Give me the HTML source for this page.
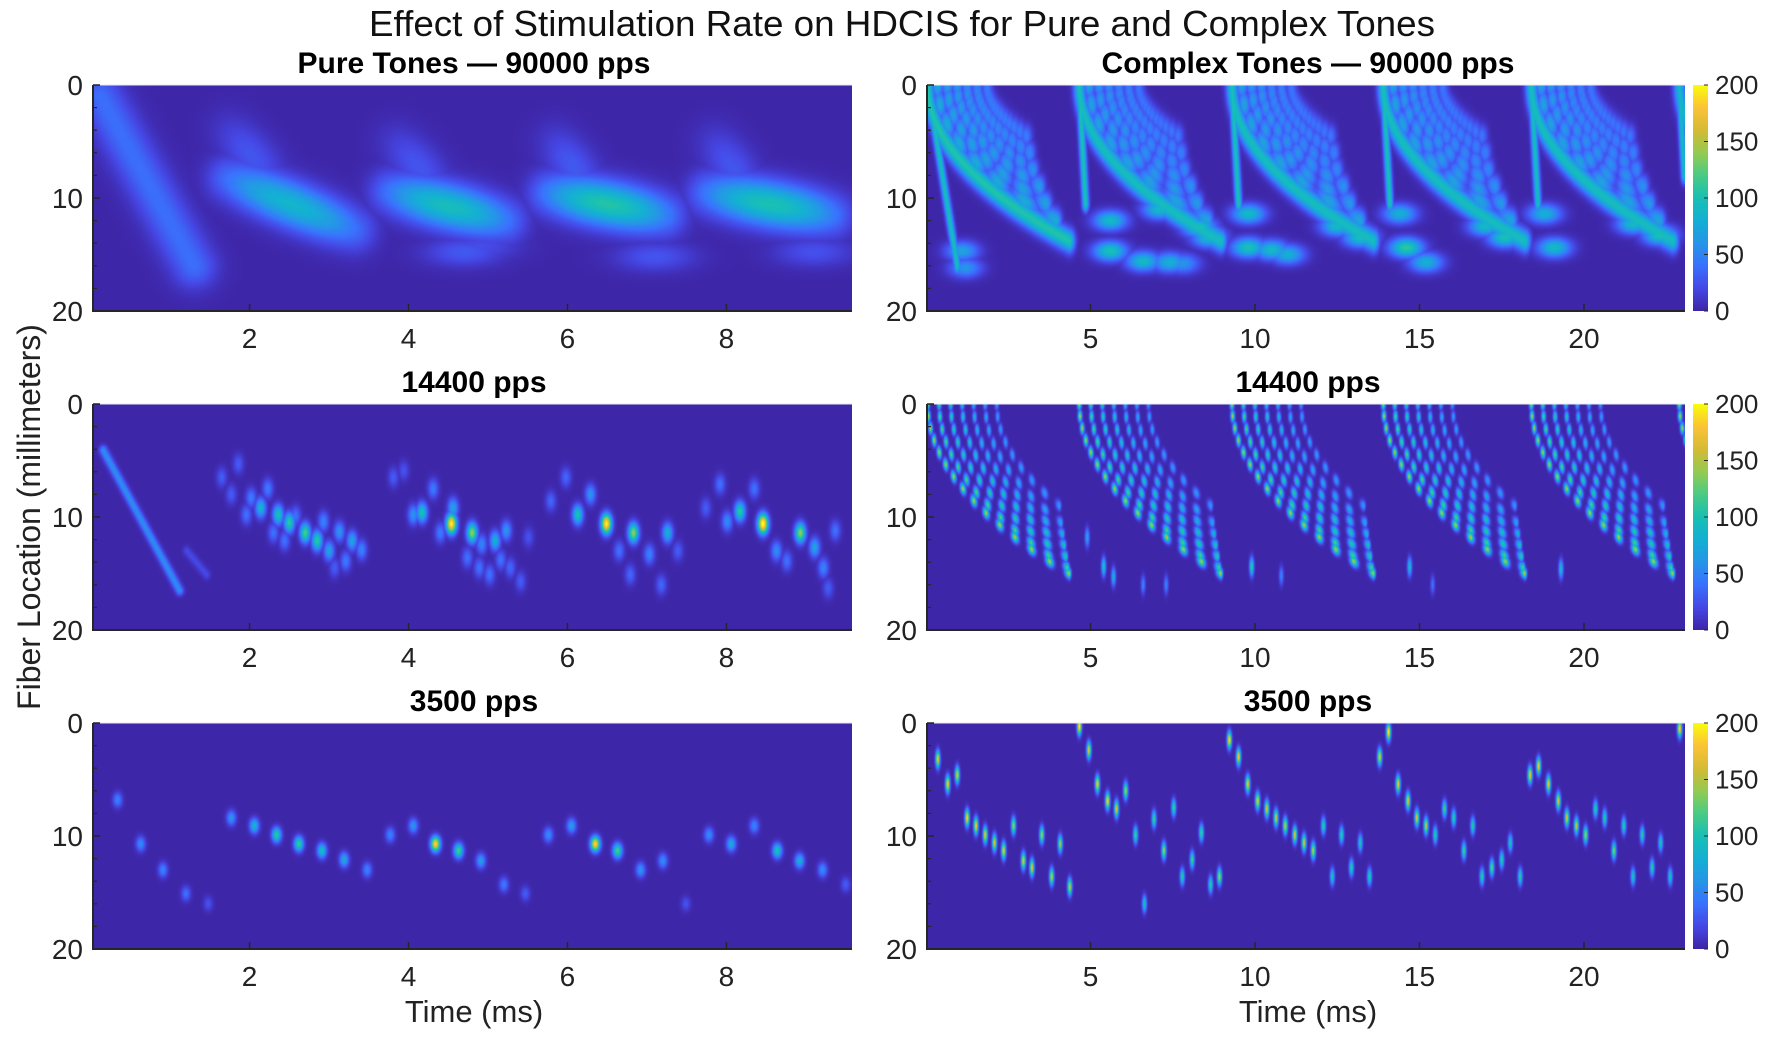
<!DOCTYPE html>
<html><head><meta charset="utf-8"><style>
html,body{margin:0;padding:0;background:#fff;}
#root{position:relative;width:1772px;height:1040px;overflow:hidden;font-family:"Liberation Sans",Arial,sans-serif;}
canvas{position:absolute;}
svg{position:absolute;left:0;top:0;}
</style></head><body>
<div id="root">
<canvas id="cA"></canvas>
<canvas id="cB"></canvas>
<canvas id="cC"></canvas>
<canvas id="cD"></canvas>
<canvas id="cE"></canvas>
<canvas id="cF"></canvas>
<canvas id="cb1"></canvas>
<canvas id="cb2"></canvas>
<canvas id="cb3"></canvas>
<svg id="ov" width="1772" height="1040">
<text x="902" y="36" font-size="36" text-anchor="middle" fill="#111" textLength="1066" lengthAdjust="spacingAndGlyphs">Effect of Stimulation Rate on HDCIS for Pure and Complex Tones</text>
<text transform="translate(40,517) rotate(-90)" font-size="32" text-anchor="middle" fill="#222">Fiber Location (millimeters)</text>
<text x="474" y="1022" font-size="31" text-anchor="middle" fill="#222">Time (ms)</text>
<text x="1308" y="1022" font-size="31" text-anchor="middle" fill="#222">Time (ms)</text>
</svg>
</div>
<script>
// ---------- layout ----------
const LX0=93, LX1=852, RX0=927, RX1=1685, CBX=1693, CBW=15;
const ROWY=[85,404,723], ROWH=226;
const L_TMIN=0.03, L_TMAX=9.58, R_TMIN=0.03, R_TMAX=23.07, LOCMAX=20, VMAX=200;

// ---------- data: Pure 90000 (bands as segments) ----------
const pA_segT0=[0.12,1.75,1.75,3.8,3.85,5.8,5.85,7.8,7.85];
const pA_segL0=[1,8.3,4,9.5,5,9.6,5,9.6,5];
const pA_segT1=[1.3,3.3,2.3,5.2,4.4,7.2,6.3,9.3,8.3];
const pA_segL1=[16,12.8,8.5,12,9.5,11.5,9.5,11.5,9.5];
const pA_segV=[38,85,26,95,26,105,28,100,26];
const pA_blobT=[4.7,4.9,7.1,6.9,9.1,9.0];
const pA_blobL=[14.8,14.3,15.2,12.5,14.8,12.5];
const pA_blobV=[28,22,26,30,24,30];

// ---------- data: Complex 90000 ----------
const pB_periods=[0.05,4.66,9.3,13.9,18.4,22.9];
const pB_periodGain=[1.1,1.0,1.0,1.0,1.0,0.9];
const pB_arcShift=[0,0.3,0.6,0.9,1.2,1.5,1.8];
const pB_arcDur=[4.3,3.6,3.0,2.5,2.0,1.6,1.2];
const pB_arcLoc=[13.8,12,10.5,9,7.5,6,4.5];
const pB_arcVal=[95,70,62,58,52,48,42];
const pB_segT0=[0.05,4.66,9.3,13.9,18.4,22.9];
const pB_segL0=[0,0,0,0,0,0];
const pB_segT1=[0.95,4.85,9.5,14.1,18.6,23.05];
const pB_segL1=[16,10.5,10.5,10.5,10.5,8];
const pB_segV=[95,100,100,100,95,90];
const pB_blobT=[1.1,1.2,5.6,7.1,8.3,8.6,5.6,6.6,7.4,7.8,9.8,9.8,10.5,11.0,12.5,13.2,14.4,14.6,15.2,17.0,17.6,18.8,19.1,21.5,22.3];
const pB_blobL=[14.7,16.2,12,11,12.6,13.5,14.7,15.6,15.7,15.8,11.4,14.4,14.6,15,12.5,13.5,11.4,14.4,15.7,12.5,13.5,11.4,14.4,12.3,13.3];
const pB_blobV=[70,60,90,90,100,90,100,90,80,60,90,100,90,80,90,95,80,110,80,90,100,80,90,90,100];

// ---------- data: Pure 14400 ----------
const pC_segT0=[0.16,1.21];
const pC_segL0=[4.1,13];
const pC_segT1=[1.12,1.46];
const pC_segL1=[16.5,15.1];
const pC_segV=[55,20];
const pC_blobT=[1.65,1.86,1.77,1.96,2.02,2.14,2.23,2.36,2.5,2.7,2.85,3.0,2.3,2.44,2.58,2.93,3.13,3.29,3.41,3.21,3.07,
 3.81,3.94,4.06,4.17,4.31,4.4,4.54,4.56,4.8,4.74,4.92,5.09,5.23,4.89,5.02,5.16,5.28,5.41,5.51,
 5.79,5.98,6.13,6.29,6.49,6.65,6.83,6.79,7.03,7.18,7.26,7.39,
 7.74,7.92,8.01,8.17,8.35,8.46,8.63,8.76,8.93,9.11,9.22,9.37,9.28];
const pC_blobL=[6.5,5.3,8,9.8,8.3,9.2,7.5,9.8,10.5,11.4,12.1,13,11.4,12.1,9.9,10.4,11.3,12.1,12.9,13.9,14.5,
 6.5,5.9,9.8,9.6,7.5,11.4,10.6,9.2,11.4,13.6,12.4,12.1,11.2,14.5,15.1,13.8,14.5,15.7,11.8,
 8.6,6.5,9.8,8,10.6,13,11.4,15.1,13.3,16,11.4,13,
 9.2,7.1,10.4,9.5,7.5,10.6,13,13.9,11.4,12.7,14.5,11.2,16.3];
const pC_blobV=[30,30,30,40,45,85,45,100,110,120,110,70,40,40,40,50,60,70,50,45,30,
 30,25,60,100,45,45,200,70,140,40,50,80,60,40,40,40,35,30,25,
 35,35,100,60,200,40,140,35,50,35,80,30,
 30,40,55,110,40,210,55,40,140,70,50,40,30];

// ---------- data: Complex 14400 ----------
const pD_periods=[0.05,4.66,9.3,13.9,18.4,22.9];
const pD_arcShift=[0,0.35,0.7,1.05,1.4,1.75,2.1];
const pD_arcDur=[4.3,3.9,3.5,3.1,2.7,2.3,1.9];
const pD_arcLoc=[15,14.5,13.5,12.5,11.5,10.5,9];
const pD_arcVal=[150,125,110,100,85,75,65];
const pD_blobT=[5.4,5.7,6.6,7.3,9.9,10.8,14.7,15.4,19.3,4.9];
const pD_blobL=[14.4,15.3,16,16,14.4,15.2,14.4,16,14.6,11.8];
const pD_blobV=[100,80,50,50,110,50,90,40,90,70];

// ---------- data: Pure 3500 ----------
const pE_blobT=[0.34,0.63,0.91,1.2,1.48,1.77,2.06,2.34,2.62,2.91,3.19,3.48,3.77,4.06,4.34,4.63,4.91,5.2,5.47,5.76,6.05,6.35,6.63,6.92,7.2,7.49,7.78,8.06,8.35,8.64,8.92,9.21,9.5];
const pE_blobL=[6.8,10.7,13,15.1,16,8.4,9.1,9.9,10.7,11.3,12.1,13,9.9,9.1,10.7,11.3,12.2,14.3,15.1,9.9,9.1,10.7,11.3,13,12.2,16,9.9,10.7,9.1,11.3,12.2,13,14.3];
const pE_blobV=[50,55,50,40,25,60,85,110,115,95,75,50,50,60,190,120,65,45,30,55,65,190,120,60,55,25,55,75,50,100,80,55,30];

// ---------- data: Complex 3500 ----------
const pF_blobT=[0.36,0.66,0.95,1.25,1.52,1.8,2.08,2.36,2.66,2.96,3.22,3.52,3.82,4.08,4.37,4.66,4.95,5.21,5.52,5.79,6.07,6.37,6.64,6.93,7.23,7.53,7.79,8.09,8.37,8.65,8.92,9.22,9.5,9.78,10.08,10.36,10.64,10.92,11.21,11.49,11.77,12.08,12.35,12.63,12.93,13.2,13.48,13.79,14.06,14.35,14.65,14.92,15.2,15.48,15.76,16.04,16.35,16.62,16.9,17.2,17.5,17.76,18.06,18.36,18.62,18.92,19.22,19.48,19.77,20.05,20.35,20.63,20.91,21.21,21.49,21.77,22.07,22.33,22.62,22.91];
const pF_blobL=[3.2,5.4,4.6,8.4,9.1,9.9,10.6,11.3,9.1,12.2,12.8,9.9,13.6,10.7,14.5,0.3,2.4,5.4,6.9,7.6,6,9.9,16,8.5,11.3,7.5,13.6,12.1,9.7,14.3,13.6,1.5,3,5.4,6.9,7.6,8.4,9.1,9.9,10.6,11.3,9.1,13.6,9.9,12.8,10.6,13.6,3,0.8,5.4,6.9,8.4,9.1,9.9,7.6,8.4,11.3,9.1,13.6,12.8,12.1,10.6,13.6,4.6,3.8,5.4,6.9,8.4,9.1,9.9,7.6,8.4,11.3,9.1,13.6,9.9,12.8,10.6,13.6,0.5];
const pF_blobV=[180,185,170,190,185,175,170,175,150,170,175,150,160,150,160,200,170,180,185,170,150,120,100,120,150,120,110,120,120,110,150,190,180,180,175,170,165,160,170,165,160,110,100,110,110,100,110,170,200,180,175,170,160,110,120,110,120,110,110,130,110,100,110,180,180,175,170,170,160,150,110,110,140,110,100,110,110,100,100,190];

// ---------- tick arrays ----------
const yTickVals=[0,10,20];
const yMinorVals=[2,4,6,8,12,14,16,18];
const leftXTicks=[2,4,6,8];
const rightXTicks=[5,10,15,20];
const cbTicks=[0,50,100,150,200];
const rowTitlesLeft=["Pure Tones — 90000 pps","14400 pps","3500 pps"];
const rowTitlesRight=["Complex Tones — 90000 pps","14400 pps","3500 pps"];

// ---------- parula ----------
const PAR=[[0,62,38,168],[0.1,70,72,230],[0.2,58,114,254],[0.3,38,150,232],[0.4,20,176,212],[0.5,25,192,180],[0.6,74,203,133],[0.7,148,203,83],[0.8,213,187,53],[0.9,252,195,56],[1,249,251,14]];
function parula(f){f=Math.max(0,Math.min(1,f));for(let i=1;i<PAR.length;i++){if(f<=PAR[i][0]){const a=PAR[i-1],b=PAR[i],u=(f-a[0])/(b[0]-a[0]);return [a[1]+u*(b[1]-a[1]),a[2]+u*(b[2]-a[2]),a[3]+u*(b[3]-a[3])];}}return PAR[PAR.length-1].slice(1);}

function makePanel(id,x0,x1,y0,tmin,tmax){
  const c=document.getElementById(id);const W=x1-x0,H=ROWH;
  c.width=W;c.height=H;c.style.left=x0+'px';c.style.top=y0+'px';
  const field=new Float32Array(W*H);
  const xs=t=>(t-tmin)/(tmax-tmin)*W, ys=l=>l/LOCMAX*H;
  function stamp(t,l,v,st,sl){
    const cx=xs(t),cy=ys(l),sx=st/(tmax-tmin)*W,sy=sl/LOCMAX*H;
    const xa=Math.max(0,Math.floor(cx-3*sx)),xb=Math.min(W-1,Math.ceil(cx+3*sx));
    const ya=Math.max(0,Math.floor(cy-3*sy)),yb=Math.min(H-1,Math.ceil(cy+3*sy));
    for(let y=ya;y<=yb;y++){const dy=(y+0.5-cy)/sy;const ey=Math.exp(-0.5*dy*dy);
      for(let x=xa;x<=xb;x++){const dx=(x+0.5-cx)/sx;const val=v*ey*Math.exp(-0.5*dx*dx);const k=y*W+x;if(val>field[k])field[k]=val;}}
  }
  function seg(t0,l0,t1,l1,v,st,sl,taper){
    const len=Math.hypot(xs(t1)-xs(t0),ys(l1)-ys(l0));const n=Math.max(2,Math.ceil(len/1.5));
    for(let i=0;i<=n;i++){const u=i/n;let vv=v;if(taper){vv=v*(0.45+0.55*Math.sin(Math.PI*u));}
      stamp(t0+u*(t1-t0),l0+u*(l1-l0),vv,st,sl);}
  }
  function arc(t0,dur,loc,v,st,sl,dashN,dashP,base){
    const n=Math.ceil(loc/LOCMAX*H/1.2)+Math.ceil(dur/(tmax-tmin)*W/1.5);
    for(let i=0;i<=n;i++){const u=i/n;const t=t0+dur*u*u,l=loc*u;
      let vv=v;if(dashN){vv=v*(base+(1-base)*Math.pow(0.5+0.5*Math.cos(2*Math.PI*u*dashN),dashP));}
      if(t<=tmax+0.2)stamp(t,l,vv,st,sl);}
  }
  function paint(){
    const img=c.getContext('2d').createImageData(W,H);
    for(let k=0;k<W*H;k++){const col=parula(field[k]/VMAX);img.data[4*k]=col[0];img.data[4*k+1]=col[1];img.data[4*k+2]=col[2];img.data[4*k+3]=255;}
    c.getContext('2d').putImageData(img,0,0);
  }
  return {stamp,seg,arc,paint};
}

// Panel A
(function(){const p=makePanel('cA',LX0,LX1,ROWY[0],L_TMIN,L_TMAX);
 for(let i=0;i<pA_segT0.length;i++)p.seg(pA_segT0[i],pA_segL0[i],pA_segT1[i],pA_segL1[i],pA_segV[i],0.2,1.4,i>0);
 for(let i=0;i<pA_blobT.length;i++)p.stamp(pA_blobT[i],pA_blobL[i],pA_blobV[i],0.35,0.9);
 p.paint();})();
// Panel B
(function(){const p=makePanel('cB',RX0,RX1,ROWY[0],R_TMIN,R_TMAX);
 for(let k=0;k<pB_periods.length;k++)for(let a=0;a<pB_arcDur.length;a++)
   p.arc(pB_periods[k]+pB_arcShift[a],pB_arcDur[a],pB_arcLoc[a],pB_arcVal[a]*pB_periodGain[k],0.12,0.7,a===0?0:6+a,1,0.4);
 for(let i=0;i<pB_segT0.length;i++)p.seg(pB_segT0[i],pB_segL0[i],pB_segT1[i],pB_segL1[i],pB_segV[i],0.07,0.5,false);
 for(let i=0;i<pB_blobT.length;i++)p.stamp(pB_blobT[i],pB_blobL[i],pB_blobV[i],0.35,0.6);
 p.paint();})();
// Panel C
(function(){const p=makePanel('cC',LX0,LX1,ROWY[1],L_TMIN,L_TMAX);
 for(let i=0;i<pC_segT0.length;i++)p.seg(pC_segT0[i],pC_segL0[i],pC_segT1[i],pC_segL1[i],pC_segV[i],0.035,0.3,false);
 for(let i=0;i<pC_blobT.length;i++)p.stamp(pC_blobT[i],pC_blobL[i],pC_blobV[i],0.045,0.6);
 p.paint();})();
// Panel D
(function(){const p=makePanel('cD',RX0,RX1,ROWY[1],R_TMIN,R_TMAX);
 for(let k=0;k<pD_periods.length;k++)for(let a=0;a<pD_arcDur.length;a++)
   p.arc(pD_periods[k]+pD_arcShift[a],pD_arcDur[a],pD_arcLoc[a],pD_arcVal[a],0.04,0.3,14-a,3,0);
 for(let i=0;i<pD_blobT.length;i++)p.stamp(pD_blobT[i],pD_blobL[i],pD_blobV[i],0.045,0.55);
 p.paint();})();
// Panel E
(function(){const p=makePanel('cE',LX0,LX1,ROWY[2],L_TMIN,L_TMAX);
 for(let i=0;i<pE_blobT.length;i++)p.stamp(pE_blobT[i],pE_blobL[i],pE_blobV[i],0.04,0.45);
 p.paint();})();
// Panel F
(function(){const p=makePanel('cF',RX0,RX1,ROWY[2],R_TMIN,R_TMAX);
 for(let i=0;i<pF_blobT.length;i++)p.stamp(pF_blobT[i],pF_blobL[i],pF_blobV[i],0.045,0.5);
 p.paint();})();
// colorbars
['cb1','cb2','cb3'].forEach((id,r)=>{const c=document.getElementById(id);c.width=CBW;c.height=ROWH;c.style.left=CBX+'px';c.style.top=ROWY[r]+'px';
 const g=c.getContext('2d');for(let y=0;y<ROWH;y++){const col=parula(1-y/(ROWH-1));g.fillStyle=`rgb(${col[0]|0},${col[1]|0},${col[2]|0})`;g.fillRect(0,y,CBW,1);}});

// ---------- axes overlay ----------
const NS='http://www.w3.org/2000/svg';const ov=document.getElementById('ov');
function el(tag,attrs,txt){const e=document.createElementNS(NS,tag);for(const k in attrs)e.setAttribute(k,attrs[k]);if(txt!==undefined)e.textContent=txt;ov.appendChild(e);return e;}
const colsDef=[{x0:LX0,x1:LX1,tmin:L_TMIN,tmax:L_TMAX,ticks:leftXTicks,titles:rowTitlesLeft,side:'left',cx:474},{x0:RX0,x1:RX1,tmin:R_TMIN,tmax:R_TMAX,ticks:rightXTicks,titles:rowTitlesRight,side:'right',cx:1308}];
colsDef.forEach(cd=>{
 ROWY.forEach((y0,r)=>{
  const yb=y0+ROWH;
  const tl=el('text',{x:cd.cx,y:y0-12,'font-size':30,'font-weight':'bold','text-anchor':'middle',fill:'#000'},cd.titles[r]);
  
  
  const ax=el('path',{d:`M${cd.x0},${y0} L${cd.x0},${yb} L${cd.x1},${yb}`,stroke:'#262626','stroke-width':2,fill:'none'});
  
  
  el('line',{x1:cd.x0,y1:y0,x2:cd.x1,y2:y0,stroke:'#e8e8f0','stroke-width':1});
  yTickVals.forEach(v=>{const yy=y0+v/LOCMAX*ROWH;
   const t=el('text',{x:cd.x0-10,y:yy+10,'font-size':28,'text-anchor':'end',fill:'#222'},String(v));
   
   
   el('line',{x1:cd.x0,y1:yy,x2:cd.x0+7,y2:yy,stroke:'#262626','stroke-width':1.5});});
  yMinorVals.forEach(v=>{const yy=y0+v/LOCMAX*ROWH;el('line',{x1:cd.x0,y1:yy,x2:cd.x0+4,y2:yy,stroke:'#262626','stroke-width':1.2});});
  cd.ticks.forEach(v=>{const xx=cd.x0+(v-cd.tmin)/(cd.tmax-cd.tmin)*(cd.x1-cd.x0);
   el('line',{x1:xx,y1:yb,x2:xx,y2:yb-7,stroke:'#262626','stroke-width':1.5});
   const t=el('text',{x:xx,y:yb+37,'font-size':28,'text-anchor':'middle',fill:'#222'},String(v));
   
   });
  if(cd.side==='right'){cbTicks.forEach(v=>{const yy=y0+ROWH-v/VMAX*ROWH;
   el('line',{x1:CBX+CBW,y1:yy,x2:CBX+CBW-4,y2:yy,stroke:'#262626','stroke-width':1});
   const t=el('text',{x:CBX+CBW+7,y:yy+9,'font-size':26,'text-anchor':'start',fill:'#222'},String(v));
   
   });}
 });
});
</script>
</body></html>
